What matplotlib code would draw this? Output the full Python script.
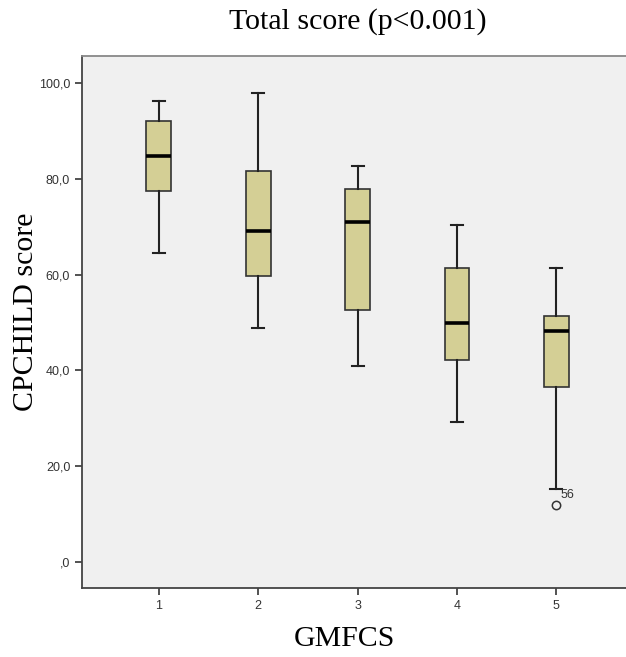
import matplotlib.pyplot as plt
from matplotlib.ticker import FuncFormatter

groups = ['1', '2', '3', '4', '5']
whislo = [64.4, 48.9, 41.0, 29.2, 15.2]
q1 = [77.5, 59.7, 52.5, 42.1, 36.5]
med = [84.8, 69.0, 71.0, 49.9, 48.3]
q3 = [92.1, 81.7, 77.8, 61.3, 51.4]
whishi = [96.2, 97.8, 82.6, 70.4, 61.4]
fliers = [[], [], [], [], [11.9]]
flier_ids = {5: ('56', 11.9)}

stats = []
for i in range(len(groups)):
    stats.append({'whislo': whislo[i], 'q1': q1[i], 'med': med[i], 'q3': q3[i],
                  'whishi': whishi[i], 'fliers': fliers[i], 'label': groups[i]})

fig = plt.figure(figsize=(6.26, 6.57), dpi=100)
ax = fig.add_axes([82 / 626, 69 / 657, 1 - 82 / 626, (588 - 56) / 657])
ax.set_facecolor('#f0f0f0')

pos = list(range(1, len(groups) + 1))
ax.bxp(stats, positions=pos, widths=0.25, capwidths=0.12, patch_artist=True,
       boxprops=dict(facecolor='#d4cf95', edgecolor='#333333', linewidth=1.2),
       medianprops=dict(color='black', linewidth=2.6),
       whiskerprops=dict(color='#222222', linewidth=1.5),
       capprops=dict(color='#222222', linewidth=1.5),
       flierprops=dict(marker='o', markersize=6, markerfacecolor='none',
                       markeredgecolor='#333333', markeredgewidth=1.1))

# case number next to the outlier
for k, (lab, val) in flier_ids.items():
    ax.text(k + 0.04, 14.0, lab, fontsize=9, color='#333333', va='center', ha='left',
            family='Liberation Sans')

ax.set_xlim(0.226, 5.70)
ax.set_ylim(-5.4, 105.6)
ax.set_yticks([0, 20, 40, 60, 80, 100])
ax.yaxis.set_major_formatter(FuncFormatter(
    lambda v, p: ',0' if v == 0 else ('%.1f' % v).replace('.', ',')))

for s in ['left', 'bottom']:
    ax.spines[s].set_color('#444444')
    ax.spines[s].set_linewidth(1.3)
ax.spines['top'].set_color('#888888')
ax.spines['top'].set_linewidth(1.3)
ax.spines['right'].set_visible(False)

ax.tick_params(axis='both', direction='out', length=5, width=1.3, color='#444444',
               labelsize=9, labelcolor='#333333')
for lbl in ax.get_xticklabels() + ax.get_yticklabels():
    lbl.set_family('Liberation Sans')

fig.text(358 / 626, 1 - 22 / 657, 'Total score (p<0.001)', ha='center', va='center',
         fontsize=21.5, family='Liberation Serif')
fig.text(26 / 626, 1 - 312 / 657, 'CPCHILD score', ha='center', va='center',
         rotation=90, fontsize=21.5, family='Liberation Serif')
fig.text(344 / 626, 1 - 639 / 657, 'GMFCS', ha='center', va='center',
         fontsize=21.5, family='Liberation Serif')

fig.savefig('out.png', dpi=100)
